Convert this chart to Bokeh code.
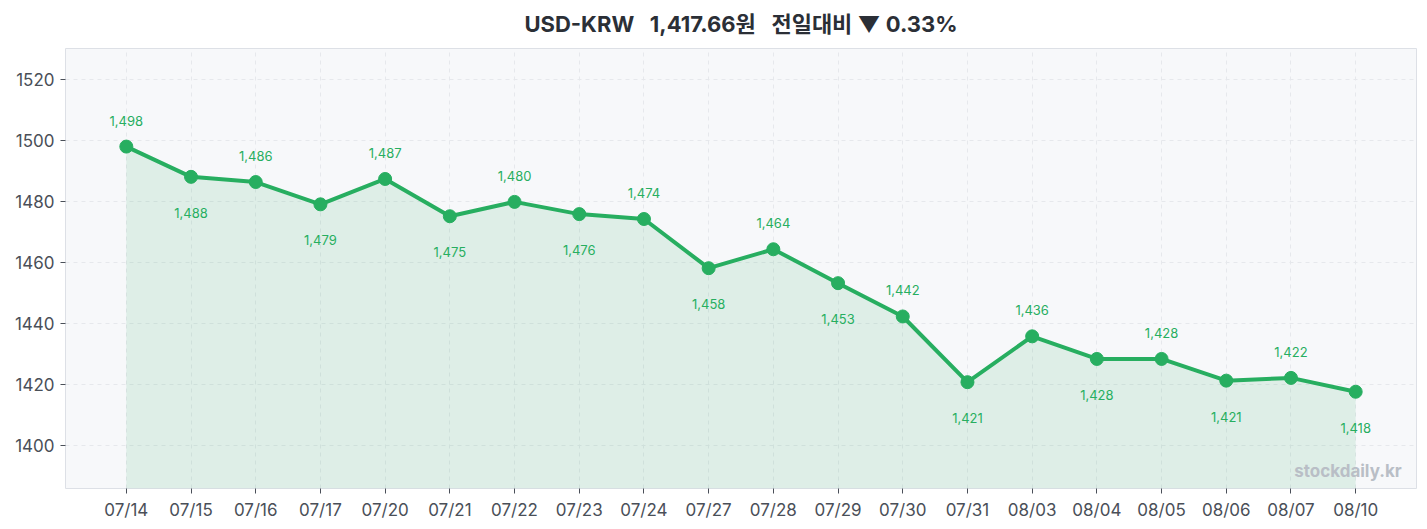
from bokeh.plotting import figure
from bokeh.models import FactorRange, FixedTicker, Range1d, ColumnDataSource
from bokeh.core.properties import value
from bokeh.embed import file_html
from bokeh.resources import INLINE

dates = ["07/14", "07/15", "07/16", "07/17", "07/20", "07/21", "07/22", "07/23",
         "07/24", "07/27", "07/28", "07/29", "07/30", "07/31", "08/03", "08/04",
         "08/05", "08/06", "08/07", "08/10"]
rates = [1497.9, 1488.0, 1486.3, 1479.0, 1487.3, 1475.1, 1479.8, 1475.8,
         1474.2, 1458.1, 1464.3, 1453.2, 1442.3, 1420.8, 1435.8, 1428.4,
         1428.4, 1421.3, 1422.2, 1417.66]
y_ticks = [1400, 1420, 1440, 1460, 1480, 1500, 1520]
y_start, y_end = 1386, 1530

title = "USD-KRW\u00a0\u00a0 1,417.66원\u00a0\u00a0 전일대비 ▼ 0.33%"
watermark = "stockdaily.kr"
GREEN = "#27ae60"
FONT = "Inter, 'Noto Sans CJK KR'"

labels = ["{:,.0f}".format(v) for v in rates]
above = [i % 2 == 0 for i in range(len(rates))]

src_up = ColumnDataSource(dict(x=[d for d, a in zip(dates, above) if a],
                               y=[v for v, a in zip(rates, above) if a],
                               t=[t for t, a in zip(labels, above) if a]))
src_dn = ColumnDataSource(dict(x=[d for d, a in zip(dates, above) if not a],
                               y=[v for v, a in zip(rates, above) if not a],
                               t=[t for t, a in zip(labels, above) if not a]))

p = figure(
    width=1418, height=522,
    x_range=FactorRange(factors=dates, range_padding=0.44, range_padding_units="absolute"),
    y_range=Range1d(y_start, y_end),
    toolbar_location=None, tools="", output_backend="svg",
    background_fill_color="#f7f8fa", border_fill_color="white",
    min_border_left=65, min_border_right=2, min_border_top=0, min_border_bottom=32,
)

p.title.text = title
p.title.align = "center"
p.title.vertical_align = "top"
p.title.text_font = FONT
p.title.text_font_size = "22px"
p.title.text_font_style = "bold"
p.title.text_color = "#2b2f36"
p.title.standoff = 20

p.outline_line_color = "#dde0e6"
p.outline_line_width = 1

p.varea(x=dates, y1=[y_start] * len(dates), y2=rates, fill_color=GREEN, fill_alpha=0.12)
p.line(dates, rates, line_color=GREEN, line_width=4)
p.scatter(dates, rates, size=13, fill_color=GREEN, line_color=GREEN)

p.text(x="x", y="y", text="t", source=src_up, text_align="center", text_baseline="middle",
       y_offset=-26, text_color=GREEN, text_font_size="13px", text_font=value(FONT))
p.text(x="x", y="y", text="t", source=src_dn, text_align="center", text_baseline="middle",
       y_offset=36, text_color=GREEN, text_font_size="13px", text_font=value(FONT))

p.text(x=[dates[-1]], y=[y_start], text=[watermark], x_offset=46, y_offset=-8,
       text_align="right", text_baseline="bottom", text_color="#b9bec6",
       text_font=value(FONT), text_font_size="17px", text_font_style="bold")

for ax in (p.xaxis, p.yaxis):
    ax.axis_line_color = None
    ax.major_tick_line_color = "#4a4f58"
    ax.major_tick_out = 5
    ax.major_tick_in = 0
    ax.minor_tick_line_color = None
    ax.major_label_text_color = "#4a4f58"
    ax.major_label_text_font = FONT
    ax.major_label_text_font_size = "17px"
    ax.major_label_standoff = 6

p.yaxis.ticker = FixedTicker(ticks=y_ticks)

p.xgrid.grid_line_color = "#e6e8ec"
p.xgrid.grid_line_dash = "4 4"
p.ygrid.grid_line_color = "#e6e8ec"
p.ygrid.grid_line_dash = "4 4"

open("out.html", "w").write(file_html(p, INLINE))
